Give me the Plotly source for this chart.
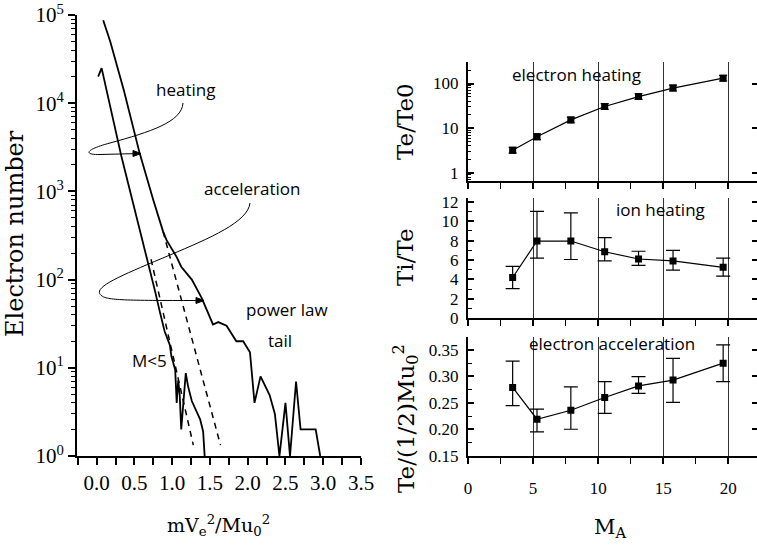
import plotly.graph_objects as go

# ---------------- data: left panel (electron energy spectra) ----------------
heat_x = [0.087, 0.18, 0.36, 0.57, 0.75, 0.88, 0.926, 1.06, 1.12, 1.26, 1.39, 1.54, 1.61, 1.72,
          1.85, 1.94, 2.03, 2.09, 2.17, 2.23, 2.29, 2.36, 2.42, 2.50, 2.56, 2.64, 2.70, 2.90, 2.96]
heat_n = [87000, 50000, 14000, 2700, 800, 350, 280, 180, 140, 100, 62, 31, 33, 30,
          20, 20, 15, 4, 8, 6.2, 4.9, 3, 1, 4, 1, 7, 2, 2, 1]
m5_x = [0.02, 0.066, 0.33, 0.53, 0.68, 0.77, 0.84, 0.90, 0.97, 0.99, 1.04, 1.06, 1.08, 1.10,
        1.12, 1.155, 1.18, 1.21, 1.26, 1.37, 1.41, 1.43]
m5_n = [20000, 25000, 2450, 510, 166, 76, 42, 26, 18, 13.5, 9.5, 4, 7.2, 4.9,
        2, 5.1, 8.7, 6.2, 4.2, 2.6, 1.9, 1]
fit_hi_x = [0.88, 1.64]
fit_hi_n = [350, 1.33]
fit_lo_x = [0.72, 1.28]
fit_lo_n = [170, 1.33]
left_xticks = [0.0, 0.5, 1.0, 1.5, 2.0, 2.5, 3.0, 3.5]
left_yticks = [1, 10, 100, 1000, 10000, 100000]
left_yticktext = ["10<sup>0</sup>", "10<sup>1</sup>", "10<sup>2</sup>", "10<sup>3</sup>",
                  "10<sup>4</sup>", "10<sup>5</sup>"]

# ---------------- data: right panels vs Alfven Mach number ----------------
MA = [3.43, 5.3, 7.9, 10.5, 13.1, 15.75, 19.6]
Te_Te0 = [3.2, 6.4, 15.3, 30.5, 51, 79, 132]
Te_Te0_up = [3.7, 7.4, 17.7, 35.4, 59, 92, 153]
Te_Te0_lo = [2.75, 5.5, 13.2, 26.3, 44, 68, 114]
Ti_Te = [4.2, 7.95, 7.95, 6.85, 6.1, 5.9, 5.25]
Ti_Te_up = [5.35, 11.0, 10.85, 8.3, 6.9, 7.0, 6.2]
Ti_Te_lo = [3.05, 6.2, 6.05, 5.9, 5.45, 4.95, 4.35]
Te_acc = [0.279, 0.219, 0.236, 0.260, 0.282, 0.293, 0.325]
Te_acc_up = [0.329, 0.238, 0.280, 0.290, 0.2995, 0.334, 0.3595]
Te_acc_lo = [0.2445, 0.195, 0.200, 0.230, 0.268, 0.251, 0.290]
MA_ticks = [0, 5, 10, 15, 20]

W, H = 757, 548
def PX(x):
    return x / W
def PY(y):
    return 1 - y / H

SERIF = "Liberation Serif"
TSERIF = "DejaVu Serif"
SANS = "Open Sans"

fig = go.Figure()

# left panel curves
fig.add_trace(go.Scatter(x=heat_x, y=heat_n, mode="lines", line=dict(color="black", width=1.8),
                         xaxis="x", yaxis="y", showlegend=False))
fig.add_trace(go.Scatter(x=m5_x, y=m5_n, mode="lines", line=dict(color="black", width=1.8),
                         xaxis="x", yaxis="y", showlegend=False))
fig.add_trace(go.Scatter(x=fit_hi_x, y=fit_hi_n, mode="lines",
                         line=dict(color="black", width=1.5, dash="6px,5px"),
                         xaxis="x", yaxis="y", showlegend=False))
fig.add_trace(go.Scatter(x=fit_lo_x, y=fit_lo_n, mode="lines",
                         line=dict(color="black", width=1.5, dash="6px,5px"),
                         xaxis="x", yaxis="y", showlegend=False))

def err(vals, up, lo):
    return [u - v for u, v in zip(up, vals)], [v - l for v, l in zip(vals, lo)]

panels = [
    ("x2", "y2", Te_Te0, Te_Te0_up, Te_Te0_lo, 4),
    ("x3", "y3", Ti_Te, Ti_Te_up, Ti_Te_lo, 7),
    ("x4", "y4", Te_acc, Te_acc_up, Te_acc_lo, 7),
]
for xa, ya, vals, up, lo, cw in panels:
    e_up, e_lo = err(vals, up, lo)
    fig.add_trace(go.Scatter(
        x=MA, y=vals, mode="lines+markers",
        line=dict(color="black", width=1.2),
        marker=dict(symbol="square", size=7, color="black"),
        error_y=dict(type="data", array=e_up, arrayminus=e_lo, color="black",
                     thickness=1.2, width=cw),
        xaxis=xa, yaxis=ya, showlegend=False))

# ghost traces for right-side mirrored ticks
for xa, ya, vals in [("x2", "y5", Te_Te0), ("x3", "y6", Ti_Te), ("x4", "y7", Te_acc)]:
    fig.add_trace(go.Scatter(x=MA, y=vals, mode="markers", marker=dict(opacity=0),
                             hoverinfo="skip", xaxis=xa, yaxis=ya, showlegend=False))

log_minor = [m * 10 ** k for k in range(-1, 5) for m in range(2, 10)]

common_line = dict(showline=True, linecolor="black", linewidth=2, zeroline=False,
                   showgrid=False, automargin=False)

# right x axes
rx_dom = [PX(468), 1.0]
def right_x(anchor, labels):
    d = dict(common_line, domain=rx_dom, range=[0, 22.2], anchor=anchor,
             tickmode="array", tickvals=MA_ticks, ticks="outside", ticklen=6, tickwidth=1.5,
             tickcolor="black", showgrid=True, gridcolor="#333333", gridwidth=1,
             showticklabels=labels,
             tickfont=dict(family=SERIF, size=17, color="black"),
             ticklabelstandoff=10,
             minor=dict(dtick=2.5, tick0=0, ticks="outside", ticklen=6, tickwidth=1.2,
                        tickcolor="black", showgrid=False))
    return d

def right_y(dom, anchor):
    return dict(common_line, domain=dom, anchor=anchor, ticks="inside", ticklen=6,
                tickwidth=1.5, tickcolor="black",
                tickfont=dict(family=SERIF, size=17, color="black"),
                ticklabelstandoff=4)

top_dom = [PY(180.7), PY(61.7)]
mid_dom = [PY(318.3), PY(197.8)]
bot_dom = [PY(455.7), PY(336.7)]

y2 = right_y(top_dom, "x2")
y2.update(type="log", range=[-0.18, 2.49], tickmode="array", tickvals=[1, 10, 100],
          ticktext=["1", "10", "100"],
          minor=dict(tickmode="array", tickvals=log_minor, ticks="inside", ticklen=3,
                     tickwidth=1, tickcolor="black"))
y3 = right_y(mid_dom, "x3")
y3.update(range=[0, 12.4], dtick=2, tick0=0,
          minor=dict(dtick=1, ticks="inside", ticklen=4, tickwidth=1, tickcolor="black"))
y4 = right_y(bot_dom, "x4")
y4.update(range=[0.15, 0.375], dtick=0.05, tick0=0.15, tickformat=".2f",
          minor=dict(dtick=0.025, ticks="inside", ticklen=4, tickwidth=1, tickcolor="black"))

def ghost(dom, anchor, over, extra):
    d = dict(domain=dom, anchor=anchor, overlaying=over, side="right", showline=False,
             zeroline=False, showgrid=False, ticks="inside", ticklen=5, tickwidth=1.5,
             tickcolor="black", showticklabels=False, automargin=False)
    d.update(extra)
    return d

y5 = ghost(top_dom, "x2", "y2", dict(type="log", range=[-0.18, 2.49], tickmode="array",
                                      tickvals=[1, 10, 100]))
y6 = ghost(mid_dom, "x3", "y3", dict(range=[0, 12.4], dtick=2, tick0=0))
y7 = ghost(bot_dom, "x4", "y4", dict(range=[0.15, 0.375], dtick=0.05, tick0=0.15))

fig.update_layout(
    template="none",
    font=dict(family=SERIF, size=17, color="black"),
    width=W, height=H, margin=dict(l=0, r=0, t=0, b=0, autoexpand=False),
    paper_bgcolor="white", plot_bgcolor="white",
    xaxis=dict(common_line, domain=[PX(77), PX(361)], range=[-0.26, 3.5], anchor="y",
               tickmode="array", tickvals=left_xticks,
               ticktext=["%.1f" % v for v in left_xticks],
               ticks="outside", ticklen=7, tickwidth=1.5, tickcolor="black",
               tickfont=dict(family=SERIF, size=21, color="black"),
               minor=dict(dtick=0.25, tick0=0, ticks="outside", ticklen=7, tickwidth=1.5,
                          tickcolor="black")),
    yaxis=dict(common_line, domain=[PY(456), PY(15)], type="log", range=[0, 5], anchor="x",
               tickmode="array", tickvals=left_yticks, ticktext=left_yticktext,
               ticks="outside", ticklen=7, tickwidth=1.5, tickcolor="black",
               tickfont=dict(family=SERIF, size=21, color="black"),
               minor=dict(tickmode="array", tickvals=log_minor, ticks="outside", ticklen=4,
                          tickwidth=1, tickcolor="black")),
    xaxis2=right_x("y2", False), yaxis2=y2,
    xaxis3=right_x("y3", False), yaxis3=y3,
    xaxis4=right_x("y4", True), yaxis4=y4,
    yaxis5=y5, yaxis6=y6, yaxis7=y7,
)

# curved annotation arrows (paper coords)
def path(cmds):
    out = []
    for c in cmds:
        if isinstance(c, str):
            out.append(c)
        else:
            out.append("%.5f,%.5f" % (PX(c[0]), PY(c[1])))
    return " ".join(out)

heat_path = path(["M", (183, 103), "C", (182, 122), (150, 132), (110, 143),
                  "C", (84, 150), (84, 155), (100, 154.5), "L", (140, 153.5)])
acc_path = path(["M", (250, 203), "C", (248, 222), (210, 238), (170, 255),
                 "C", (120, 276), (90, 288), (102, 296), "C", (108, 300.5), (130, 300.5), (203, 300.5)])
heat_head = path(["M", (133, 150.5), "L", (141, 153.5), "L", (133, 156.5), "Z"])
acc_head = path(["M", (196, 297.5), "L", (204, 300.5), "L", (196, 303.5), "Z"])
for p in (heat_path, acc_path):
    fig.add_shape(type="path", path=p, xref="paper", yref="paper",
                  line=dict(color="black", width=1))
for p in (heat_head, acc_head):
    fig.add_shape(type="path", path=p, xref="paper", yref="paper",
                  line=dict(color="black", width=1), fillcolor="black")

labels = [
    ("heating", 185, 90), ("acceleration", 252, 188), ("power law", 287, 309),
    ("tail", 280, 340), ("M&lt;5", 149, 360),
    ("electron heating", 576, 75), ("ion heating", 660, 209),
    ("electron acceleration", 612, 343),
]
for t, x, y in labels:
    fig.add_annotation(x=PX(x), y=PY(y), xref="paper", yref="paper", text=t, showarrow=False,
                       font=dict(family=SANS, size=17, color="black"),
                       xanchor="center", yanchor="middle")

titles = [
    ("Electron number", 15, 234, -90, 24),
    ("Te/Te0", 405, 121, -90, 23),
    ("Ti/Te", 405, 257, -90, 23),
    ("Te/(1/2)Mu<sub>0</sub><sup>2</sup>", 405, 418, -90, 23),
    ("mV<sub>e</sub><sup>2</sup>/Mu<sub>0</sub><sup>2</sup>", 218, 525, 0, 19),
    ("M<sub>A</sub>", 610, 528, 0, 21),
]
for t, x, y, ang, sz in titles:
    fig.add_annotation(x=PX(x), y=PY(y), xref="paper", yref="paper", text=t, showarrow=False,
                       textangle=ang, font=dict(family=TSERIF, size=sz, color="black"),
                       xanchor="center", yanchor="middle")

fig.write_html("out.html")
